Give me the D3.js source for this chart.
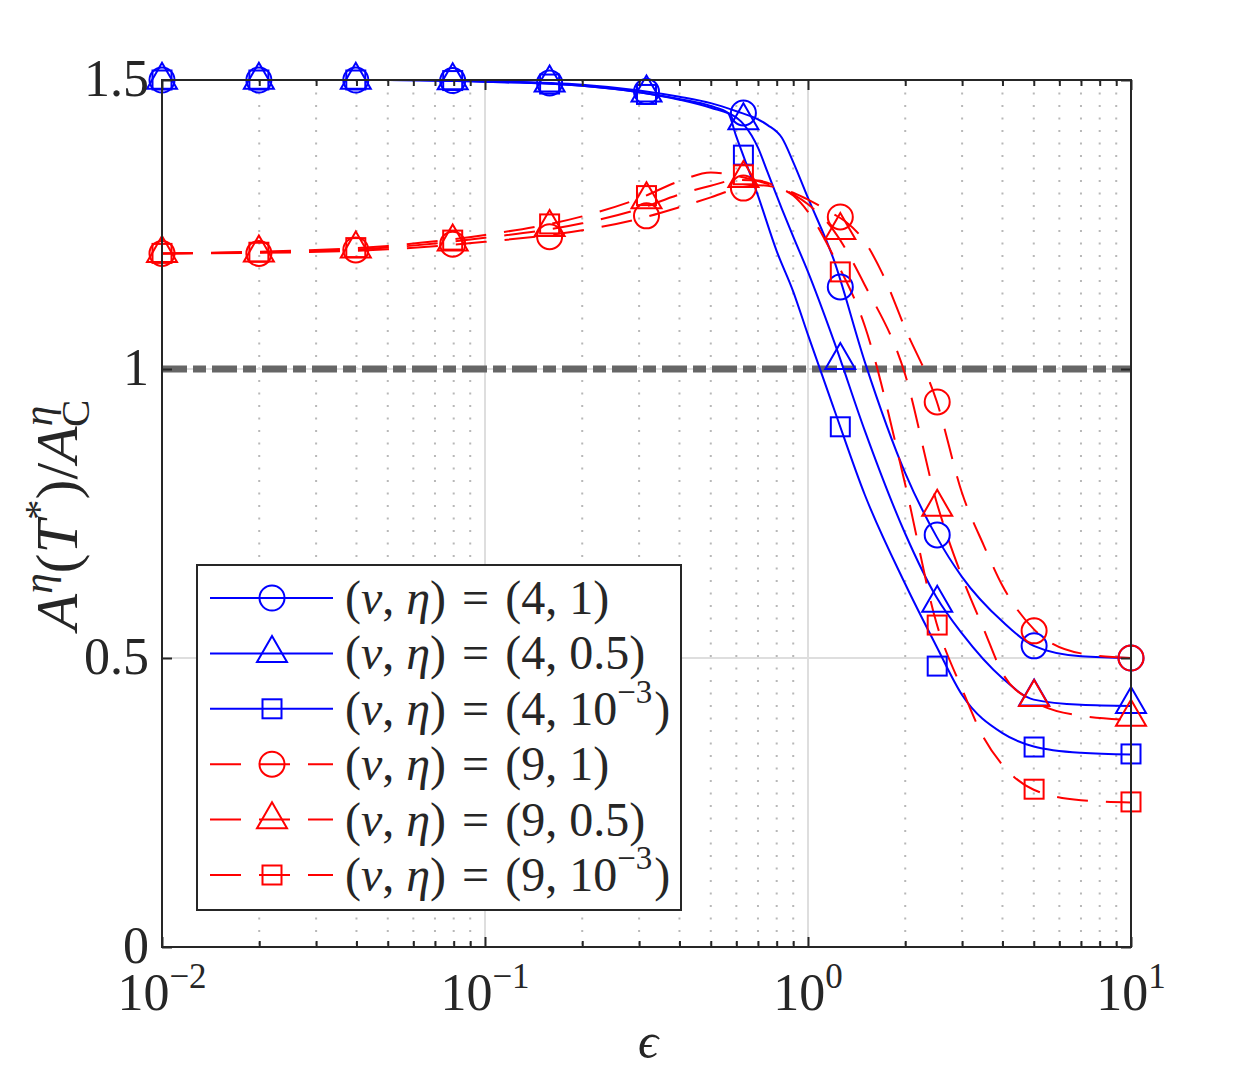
<!DOCTYPE html>
<html>
<head>
<meta charset="utf-8">
<script src="https://cdn.jsdelivr.net/npm/d3@7"></script>
<style>
  body { margin: 0; background: #fff; }
  svg text { font-family: "Liberation Serif", "DejaVu Serif", serif; fill: #262626; }
</style>
</head>
<body>
<svg id="chart" width="1250" height="1074"></svg>
<script>
// epsilon values where the markers sit (logspace(-2, 1, 11))
const epsMarks = [0.01, 0.01995, 0.03981, 0.07943, 0.1585, 0.3162, 0.631, 1.259, 2.512, 5.012, 10];

// marker values
const mark_v4_e1   = [1.5, 1.5, 1.5, 1.499, 1.495, 1.48, 1.443, 1.142, 0.713, 0.521, 0.5];
const mark_v4_e05  = [1.5, 1.5, 1.5, 1.499, 1.495, 1.478, 1.43, 1.015, 0.595, 0.433, 0.42];
const mark_v4_e3   = [1.5, 1.5, 1.5, 1.499, 1.493, 1.475, 1.37, 0.90, 0.486, 0.346, 0.334];
const mark_v9_e1   = [1.2, 1.2, 1.206, 1.216, 1.229, 1.265, 1.313, 1.263, 0.943, 0.547, 0.5];
const mark_v9_e05  = [1.2, 1.201, 1.208, 1.22, 1.245, 1.293, 1.33, 1.24, 0.761, 0.432, 0.398];
const mark_v9_e3   = [1.2, 1.202, 1.21, 1.223, 1.251, 1.30, 1.336, 1.168, 0.557, 0.273, 0.251];

// continuous curves
const line_v4_e1_x  = [0.01, 0.02, 0.05, 0.1, 0.2, 0.3, 0.4, 0.5, 0.6, 0.7, 0.75, 0.83, 0.9, 1, 1.2, 1.5, 2, 2.5, 3, 4, 5, 7, 10];
const line_v4_e1_y  = [1.5, 1.5, 1.5, 1.498, 1.492, 1.482, 1.471, 1.46, 1.446, 1.432, 1.422, 1.40, 1.358, 1.296, 1.19, 1.012, 0.82, 0.71, 0.64, 0.563, 0.521, 0.503, 0.5];
const line_v4_e05_x = [0.01, 0.02, 0.05, 0.1, 0.2, 0.3, 0.4, 0.5, 0.6, 0.635, 0.7, 0.75, 0.83, 0.9, 1, 1.2, 1.5, 2, 2.5, 3, 4, 5, 7, 10];
const line_v4_e05_y = [1.5, 1.5, 1.5, 1.497, 1.49, 1.479, 1.466, 1.452, 1.435, 1.422, 1.383, 1.34, 1.277, 1.229, 1.168, 1.05, 0.893, 0.715, 0.605, 0.542, 0.465, 0.428, 0.419, 0.417];
const line_v4_e3_x  = [0.01, 0.02, 0.05, 0.1, 0.2, 0.3, 0.4, 0.5, 0.565, 0.6, 0.7, 0.8, 0.9, 1, 1.2, 1.5, 2, 2.5, 3, 4, 5, 7, 10];
const line_v4_e3_y  = [1.5, 1.5, 1.5, 1.497, 1.49, 1.479, 1.467, 1.455, 1.443, 1.402, 1.30, 1.204, 1.134, 1.059, 0.933, 0.782, 0.628, 0.52, 0.436, 0.37, 0.347, 0.336, 0.333];
const line_v9_e1_x  = [0.01, 0.02, 0.05, 0.1, 0.2, 0.3, 0.4, 0.5, 0.6, 0.7, 0.8, 0.9, 1, 1.2, 1.3, 1.5, 1.7, 2, 2.5, 3, 3.5, 4, 5, 7, 10];
const line_v9_e1_y  = [1.2, 1.201, 1.207, 1.22, 1.24, 1.26, 1.28, 1.297, 1.312, 1.318, 1.314, 1.305, 1.293, 1.268, 1.256, 1.22, 1.165, 1.07, 0.945, 0.785, 0.695, 0.625, 0.55, 0.508, 0.5];
const line_v9_e05_x = [0.01, 0.02, 0.05, 0.1, 0.2, 0.3, 0.4, 0.5, 0.6, 0.7, 0.8, 0.9, 1, 1.2, 1.5, 2, 2.5, 3, 3.5, 4, 5, 7, 10];
const line_v9_e05_y = [1.2, 1.202, 1.21, 1.227, 1.252, 1.277, 1.302, 1.317, 1.327, 1.326, 1.316, 1.302, 1.285, 1.24, 1.145, 0.99, 0.77, 0.64, 0.55, 0.474, 0.425, 0.40, 0.393];
const line_v9_e3_x  = [0.01, 0.02, 0.05, 0.1, 0.2, 0.3, 0.4, 0.5, 0.6, 0.7, 0.8, 0.9, 1, 1.2, 1.5, 2, 2.5, 3, 3.5, 4, 5, 7, 10];
const line_v9_e3_y  = [1.2, 1.203, 1.213, 1.232, 1.264, 1.295, 1.325, 1.34, 1.334, 1.325, 1.315, 1.30, 1.272, 1.195, 1.074, 0.80, 0.56, 0.446, 0.362, 0.315, 0.272, 0.254, 0.25];

// legend text: the part after "(v, eta) = (", plus optional exponent
const legendArgs = ["4, 1", "4, 0.5", "4, 10", "9, 1", "9, 0.5", "9, 10"];
const legendExps = [null, null, "\u22123", null, null, "\u22123"];

const xMajor = [0.01, 0.1, 1, 10];
const xMajorExp = ["\u22122", "\u22121", "0", "1"];
const yTicks = [0, 0.5, 1, 1.5];
const yTickLabels = ["0", "0.5", "1", "1.5"];
const refLevel = 1;

const svg = d3.select("#chart");
const pLeft = 162, pRight = 1131, pTop = 80, pBottom = 947;

const x = d3.scaleLog().domain([0.01, 10]).range([pLeft, pRight]);
const y = d3.scaleLinear().domain([0, 1.5]).range([pBottom, pTop]);

const xMinor = [];
xMajor.slice(0, -1).forEach(d => { for (let k = 2; k <= 9; k++) xMinor.push(d * k); });

// clip
svg.append("defs").append("clipPath").attr("id", "clip")
  .append("rect").attr("x", pLeft).attr("y", pTop).attr("width", pRight - pLeft).attr("height", pBottom - pTop);

// grid
const grid = svg.append("g");
grid.selectAll(".minor").data(xMinor).enter().append("line")
  .attr("x1", d => x(d)).attr("x2", d => x(d)).attr("y1", pTop).attr("y2", pBottom)
  .attr("stroke", "#b8b8b8").attr("stroke-width", 2).attr("stroke-dasharray", "2,10.5");
grid.selectAll(".major").data(xMajor).enter().append("line")
  .attr("x1", d => x(d)).attr("x2", d => x(d)).attr("y1", pTop).attr("y2", pBottom)
  .attr("stroke", "#dedede").attr("stroke-width", 2);
grid.selectAll(".ymajor").data(yTicks).enter().append("line")
  .attr("x1", pLeft).attr("x2", pRight).attr("y1", d => y(d)).attr("y2", d => y(d))
  .attr("stroke", "#dedede").attr("stroke-width", 2);

// reference line at 1
svg.append("line")
  .attr("x1", pLeft).attr("x2", pRight).attr("y1", y(refLevel)).attr("y2", y(refLevel))
  .attr("stroke", "#666666").attr("stroke-width", 7).attr("stroke-dasharray", "25,6,13,6");

const series = [
  { lx: line_v4_e1_x,  ly: line_v4_e1_y,  m: mark_v4_e1,  color: "#0000ff", dash: null,    shape: "circle" },
  { lx: line_v4_e05_x, ly: line_v4_e05_y, m: mark_v4_e05, color: "#0000ff", dash: null,    shape: "triangle" },
  { lx: line_v4_e3_x,  ly: line_v4_e3_y,  m: mark_v4_e3,  color: "#0000ff", dash: null,    shape: "square" },
  { lx: line_v9_e1_x,  ly: line_v9_e1_y,  m: mark_v9_e1,  color: "#ff0000", dash: "31,18", shape: "circle" },
  { lx: line_v9_e05_x, ly: line_v9_e05_y, m: mark_v9_e05, color: "#ff0000", dash: "31,18", shape: "triangle" },
  { lx: line_v9_e3_x,  ly: line_v9_e3_y,  m: mark_v9_e3,  color: "#ff0000", dash: "31,18", shape: "square" }
];

const line = d3.line().x(d => x(d[0])).y(d => y(d[1])).curve(d3.curveMonotoneX);

function drawMarker(g, shape, color) {
  if (shape === "circle") {
    g.append("circle").attr("r", 12.5);
  } else if (shape === "triangle") {
    g.append("path").attr("d", "M0,-17.3L15,8.7L-15,8.7Z");
  } else {
    g.append("rect").attr("x", -9.5).attr("y", -9.5).attr("width", 19).attr("height", 19);
  }
  g.selectAll("*").attr("fill", "none").attr("stroke", color).attr("stroke-width", 2);
}

const plot = svg.append("g");
series.forEach(s => {
  plot.append("path")
    .datum(s.lx.map((v, i) => [v, s.ly[i]]))
    .attr("d", line)
    .attr("clip-path", "url(#clip)")
    .attr("fill", "none").attr("stroke", s.color).attr("stroke-width", 2)
    .attr("stroke-dasharray", s.dash);
});
series.forEach(s => {
  epsMarks.forEach((e, i) => {
    const g = plot.append("g").attr("transform", "translate(" + x(e) + "," + y(s.m[i]) + ")");
    drawMarker(g, s.shape, s.color);
  });
});

// axes (ticks inward)
const axes = svg.append("g").attr("class", "axes");
axes.append("g").attr("transform", "translate(0," + pBottom + ")")
  .call(d3.axisBottom(x).tickValues(xMajor).tickSize(-10).tickFormat(""));
axes.append("g").attr("transform", "translate(0," + pBottom + ")")
  .call(d3.axisBottom(x).tickValues(xMinor).tickSize(-6).tickFormat(""));
axes.append("g").attr("transform", "translate(0," + pTop + ")")
  .call(d3.axisTop(x).tickValues(xMajor).tickSize(-10).tickFormat(""));
axes.append("g").attr("transform", "translate(0," + pTop + ")")
  .call(d3.axisTop(x).tickValues(xMinor).tickSize(-6).tickFormat(""));
axes.append("g").attr("transform", "translate(" + pLeft + ",0)")
  .call(d3.axisLeft(y).tickValues(yTicks).tickSize(-10).tickFormat(""));
axes.append("g").attr("transform", "translate(" + pRight + ",0)")
  .call(d3.axisRight(y).tickValues(yTicks).tickSize(-10).tickFormat(""));
axes.selectAll(".domain").remove();
axes.selectAll("line").attr("stroke", "#262626").attr("stroke-width", 2);
svg.append("rect").attr("x", pLeft).attr("y", pTop).attr("width", pRight - pLeft).attr("height", pBottom - pTop)
  .attr("fill", "none").attr("stroke", "#262626").attr("stroke-width", 2);

// tick labels
const xl = svg.append("g").attr("font-size", 52);
xMajor.forEach((d, i) => {
  const t = xl.append("text").attr("x", x(d)).attr("y", 1010).attr("text-anchor", "middle");
  t.append("tspan").text("10");
  t.append("tspan").attr("dy", -22).attr("font-size", 35).text(xMajorExp[i]);
});
svg.append("g").attr("font-size", 52).selectAll("text").data(yTicks).enter().append("text")
  .attr("x", 149).attr("y", d => y(d) + 16).attr("text-anchor", "end")
  .text((d, i) => yTickLabels[i]);

// axis titles
svg.append("text").attr("x", 648).attr("y", 1058).attr("text-anchor", "middle")
  .attr("font-size", 50).attr("font-style", "italic").text("\u03f5");
const yl = svg.append("text").attr("transform", "translate(77,515) rotate(-90)")
  .attr("text-anchor", "middle").attr("font-size", 60);
yl.append("tspan").attr("font-style", "italic").text("A");
yl.append("tspan").attr("font-style", "italic").attr("font-size", 41).attr("dy", -25).text("\u03b7");
yl.append("tspan").attr("dy", 25).text("(");
yl.append("tspan").attr("font-style", "italic").text("T");
yl.append("tspan").attr("font-size", 41).attr("dy", -25).text("*");
yl.append("tspan").attr("dy", 25).text(")/");
yl.append("tspan").attr("font-style", "italic").text("A");
yl.append("tspan").attr("font-style", "italic").attr("font-size", 41).attr("dy", -25).text("\u03b7");
yl.append("tspan").attr("font-size", 41).attr("dx", -21).attr("dy", 37).text("C");

// legend
const leg = svg.append("g");
leg.append("rect").attr("x", 197).attr("y", 565).attr("width", 484).attr("height", 345)
  .attr("fill", "#fff").attr("stroke", "#262626").attr("stroke-width", 2);
series.forEach((s, i) => {
  const cy = 598 + i * 55.4;
  leg.append("line").attr("x1", 210).attr("x2", 333).attr("y1", cy).attr("y2", cy)
    .attr("stroke", s.color).attr("stroke-width", 2).attr("stroke-dasharray", s.dash);
  drawMarker(leg.append("g").attr("transform", "translate(272," + cy + ")"), s.shape, s.color);
  const t = leg.append("text").attr("x", 345).attr("y", cy + 16).attr("font-size", 48);
  t.append("tspan").text("(");
  t.append("tspan").attr("font-style", "italic").text("v");
  t.append("tspan").text(",");
  t.append("tspan").attr("dx", 12).attr("font-style", "italic").text("\u03b7");
  t.append("tspan").text(")");
  t.append("tspan").attr("dx", 16).text("=");
  t.append("tspan").attr("dx", 16).text("(" + legendArgs[i]);
  if (legendExps[i]) {
    t.append("tspan").attr("font-size", 33).attr("dy", -22).text(legendExps[i]);
    t.append("tspan").attr("dx", 2).attr("dy", 22).text(")");
  } else {
    t.append("tspan").text(")");
  }
});
</script>
</body>
</html>
